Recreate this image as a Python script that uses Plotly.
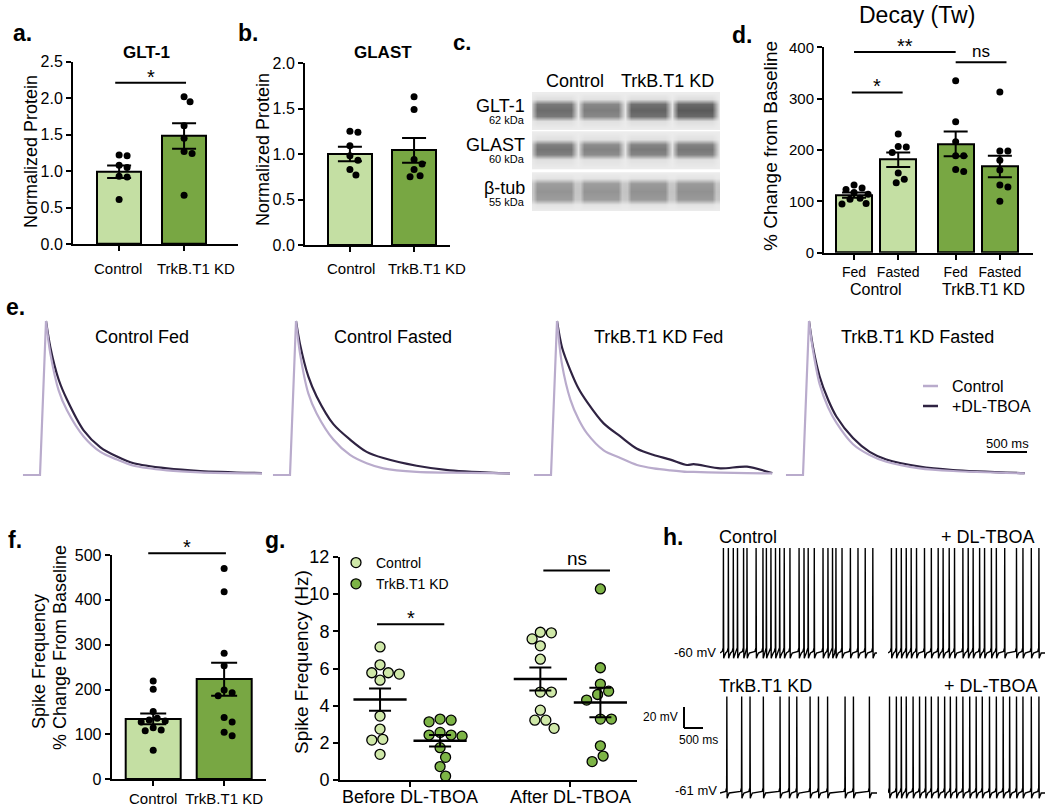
import plotly.graph_objects as go

W, H = 1050, 808
F = "Liberation Sans, Arial, sans-serif"
FN = "Liberation Sans Narrow, Arial Narrow, Liberation Sans, Arial, sans-serif"

LIGHT = "#c4dfa3"
DARK = "#78a743"
G_LIGHT = "#cfe8a8"
G_DARK = "#7db446"
TR_LIGHT = "#b9abcc"
TR_DARK = "#2f2342"

# ---------------- data ----------------
groups = ["Control", "TrkB.T1 KD"]

glt1_mean = [0.99, 1.48]
glt1_sem = [0.085, 0.175]
glt1_ctrl = [1.22, 1.21, 1.08, 1.05, 0.93, 0.92, 0.61]
glt1_kd = [2.02, 1.95, 1.62, 1.45, 1.27, 1.24, 0.67]

glast_mean = [1.0, 1.04]
glast_sem = [0.08, 0.137]
glast_ctrl = [1.25, 1.24, 1.09, 0.98, 0.93, 0.83, 0.77]
glast_kd = [1.63, 1.49, 0.94, 0.89, 0.83, 0.76, 0.75]

blot_lanes = ["Control", "TrkB.T1 KD"]
blot_rows = ["GLT-1", "GLAST", "β-tub"]
blot_kda = ["62 kDa", "60 kDa", "55 kDa"]
blot_glt1 = [0.88, 0.76, 0.94, 1.0]
blot_glast = [0.82, 0.72, 0.78, 0.80]
blot_btub = [0.60, 0.60, 0.62, 0.62]

decay_ticks = ["Fed", "Fasted", "Fed", "Fasted"]
decay_groups = ["Control", "TrkB.T1 KD"]
decay_mean = [112, 181, 212, 168]
decay_sem = [5, 14, 24, 21]
decay_ctrl_fed = [132, 126, 123, 117, 114, 106, 104, 96, 95]
decay_ctrl_fast = [231, 207, 206, 195, 155, 143, 136]
decay_kd_fed = [335, 255, 216, 189, 189, 162, 158]
decay_kd_fast = [313, 198, 198, 180, 161, 132, 128, 100]

e_titles = ["Control Fed", "Control Fasted", "TrkB.T1 KD Fed", "TrkB.T1 KD Fasted"]
e_rise_t = [-290, -75, 0]
e_rise_v = [0, 0, 1]
e_t1 = [0, 54, 158, 262, 470, 680, 887, 1096, 1512, 1929, 2700]
e_ctrl1 = [1, 0.79, 0.55, 0.42, 0.25, 0.15, 0.10, 0.06, 0.03, 0.017, 0.01]
e_tboa1 = [1, 0.83, 0.62, 0.49, 0.29, 0.18, 0.12, 0.076, 0.043, 0.026, 0.012]
e_t2 = [0, 50, 154, 258, 467, 675, 883, 1092, 1508, 1925, 2675]
e_ctrl2 = [1, 0.79, 0.53, 0.40, 0.23, 0.13, 0.076, 0.043, 0.02, 0.015, 0.01]
e_tboa2 = [1, 0.85, 0.64, 0.51, 0.33, 0.23, 0.15, 0.11, 0.06, 0.03, 0.01]
e_t3 = [0, 62, 167, 271, 375, 583, 792, 1000, 1208, 1417, 1625, 1708, 2042, 2375, 2690]
e_ctrl3 = [1, 0.72, 0.49, 0.36, 0.27, 0.16, 0.11, 0.065, 0.043, 0.03, 0.02, 0.02, 0.015, 0.012, 0.01]
e_tboa3 = [1, 0.83, 0.68, 0.56, 0.475, 0.335, 0.25, 0.17, 0.13, 0.10, 0.065, 0.07, 0.043, 0.054, 0.012]
e_t4 = [0, 50, 133, 238, 342, 550, 758, 967, 1383, 1800, 2696]
e_ctrl4 = [1, 0.81, 0.59, 0.44, 0.34, 0.20, 0.13, 0.086, 0.043, 0.026, 0.01]
e_tboa4 = [1, 0.83, 0.64, 0.49, 0.38, 0.24, 0.15, 0.10, 0.054, 0.032, 0.012]

f_mean = [134.5, 223]
f_sem = [12, 37]
f_ctrl = [219, 201, 151, 136, 132, 130, 128, 115, 110, 108, 65]
f_kd = [470, 418, 281, 253, 199, 193, 186, 138, 128, 105, 97]

g_labels = ["Before DL-TBOA", "After DL-TBOA"]
g_before_ctrl = [7.16, 6.2, 5.77, 5.77, 5.7, 5.37, 3.44, 2.74, 2.19, 2.15, 1.38]
g_before_kd = [3.28, 3.22, 3.13, 2.56, 2.42, 2.42, 2.36, 1.74, 1.22, 0.72, 0.21]
g_after_ctrl = [7.95, 7.92, 7.59, 7.22, 6.5, 4.73, 4.73, 3.76, 3.22, 3.22, 2.78]
g_after_kd = [10.28, 6.04, 5.16, 4.78, 4.6, 4.3, 3.28, 3.28, 1.84, 1.29, 0.99]
g_mean = [4.33, 2.11, 5.43, 4.17]
g_sem = [0.6, 0.31, 0.62, 0.79]

# spike times (s) for the 4 current-clamp traces
h_ctrl = [0.09, 0.22, 0.35, 0.46, 0.62, 0.71, 0.95, 1.13, 1.22, 1.34, 1.46, 1.57, 1.69, 1.84,
          2.08, 2.21, 2.32, 2.48, 2.71, 2.84, 2.96, 3.05, 3.21, 3.43, 3.63, 3.82, 4.02]
h_ctrl_tboa = [0.09, 0.22, 0.35, 0.48, 0.61, 0.75, 0.96, 1.14, 1.32, 1.45, 1.61, 1.75, 1.97,
               2.11, 2.24, 2.41, 2.54, 2.72, 2.85, 3.07, 3.38, 3.55, 3.77, 3.97]
h_kd = [0.18, 0.57, 0.79, 1.14, 1.58, 1.82, 2.02, 2.37, 2.59, 2.83, 3.29, 3.51, 3.93]
h_kd_tboa = [0.04, 0.22, 0.35, 0.48, 0.66, 0.83, 0.99, 1.14, 1.32, 1.49, 1.64, 1.80, 1.97,
             2.15, 2.32, 2.48, 2.67, 2.85, 3.03, 3.20, 3.38, 3.55, 3.77, 3.97]
h_rest = [-60, -61]
h_peak = [40, 31]

# ---------------- helpers ----------------
fig = go.Figure()
lay = {}
ann = []
shapes = []
axinfo = {}


def axis_pair(n, xd, yd, xkw, ykw):
    sx = "" if n == 1 else str(n)
    lay["xaxis" + sx] = dict(domain=[xd[0] / W, xd[1] / W], anchor="y" + sx, automargin=False, **xkw)
    lay["yaxis" + sx] = dict(domain=[1 - yd[1] / H, 1 - yd[0] / H], anchor="x" + sx, automargin=False, **ykw)
    axinfo[n] = (xd, xkw.get("range"), yd, ykw.get("range"))
    return "x" + sx, "y" + sx


def to_px(n, x, y):
    xd, xr, yd, yr = axinfo[n]
    px = xd[0] + (x - xr[0]) / (xr[1] - xr[0]) * (xd[1] - xd[0])
    py = yd[1] - (y - yr[0]) / (yr[1] - yr[0]) * (yd[1] - yd[0])
    return px, py


def ax_style(size=16, **kw):
    d = dict(showline=True, linecolor="black", linewidth=2, ticks="outside", ticklen=5,
             tickwidth=2, tickcolor="black", showgrid=False, zeroline=False, fixedrange=True,
             tickangle=0, tickfont=dict(family=F, size=size, color="black"))
    d.update(kw)
    return d


def hidden(**kw):
    d = dict(visible=False, showgrid=False, zeroline=False, fixedrange=True)
    d.update(kw)
    return d


def txt(s, x, y, size, font=F, bold=False, xanchor="center", yanchor="middle", angle=0, yshift=0):
    ann.append(dict(text="<b>%s</b>" % s if bold else s, x=x / W, y=1 - y / H,
                    xref="paper", yref="paper", showarrow=False, xanchor=xanchor,
                    yanchor=yanchor, textangle=angle, yshift=yshift,
                    font=dict(family=font, size=size, color="black")))


def pline(x0, y0, x1, y1, color="black", width=2):
    shapes.append(dict(type="line", xref="paper", yref="paper", x0=x0 / W, x1=x1 / W,
                       y0=1 - y0 / H, y1=1 - y1 / H, line=dict(color=color, width=width)))


def sig(n, x0, x1, y, label, size, shift):
    p0x, py = to_px(n, x0, y)
    p1x, _ = to_px(n, x1, y)
    pline(p0x, py, p1x, py)
    txt(label, (p0x + p1x) / 2, py, size, yanchor="bottom", yshift=shift)


def swarm(vals, ppy, d):
    placed, offs = [], []
    step = d / 4.0
    for v in vals:
        yp = v * ppy
        c = 0
        for k in range(0, 40):
            c = ((k + 1) // 2) * step * (1 if k % 2 else -1)
            if all((c - px) ** 2 + (yp - py) ** 2 >= 0.92 * d * d for px, py in placed):
                break
        placed.append((c, yp))
        offs.append(c)
    return offs


def bars(xs, means, sems, colors, width, cap, xa, ya):
    fig.add_trace(go.Bar(x=xs, y=means, width=width,
                         marker=dict(color=colors, line=dict(color="black", width=2)),
                         error_y=dict(type="data", array=sems, color="black", thickness=2, width=cap),
                         xaxis=xa, yaxis=ya, showlegend=False, hoverinfo="skip"))


def dots(x0, vals, ppx, ppy, xa, ya, size=7):
    offs = swarm(vals, ppy, size + 1)
    fig.add_trace(go.Scatter(x=[x0 + o / ppx for o in offs], y=vals, mode="markers",
                             marker=dict(size=size, color="black"), xaxis=xa, yaxis=ya,
                             showlegend=False, hoverinfo="skip"))


# ---------------- a. GLT-1 ----------------
xa, ya = axis_pair(1, (73, 238), (61.7, 244),
                   ax_style(15, range=[-0.71, 1.83], tickvals=[0, 1], ticktext=["", ""]),
                   ax_style(16, range=[0, 2.5], dtick=0.5, tickformat=".1f"))
bars([0, 1], glt1_mean, glt1_sem, [LIGHT, DARK], 0.68, 12, xa, ya)
dots(0, glt1_ctrl, 65, 72.9, xa, ya)
dots(1, glt1_kd, 65, 72.9, xa, ya)
sig(1, -0.06, 1.03, 2.21, "*", 20, -7)
txt("a.", 22, 33, 23, bold=True)
txt("GLT-1", 146, 52, 17, bold=True)
txt("Normalized Protein", 31, 152, 18, angle=-90)
txt(groups[0], 118, 268, 15)
txt(groups[1], 196, 268, 15)

# ---------------- b. GLAST ----------------
xa, ya = axis_pair(2, (305, 450), (63, 245),
                   ax_style(15, range=[-0.70, 1.56], tickvals=[0, 1], ticktext=["", ""]),
                   ax_style(16, range=[0, 2.0], dtick=0.5, tickformat=".1f"))
bars([0, 1], glast_mean, glast_sem, [LIGHT, DARK], 0.69, 12, xa, ya)
dots(0, glast_ctrl, 64, 91, xa, ya)
dots(1, glast_kd, 64, 91, xa, ya)
txt("b.", 248, 33, 23, bold=True)
txt("GLAST", 383, 52, 17, bold=True)
txt("Normalized Protein", 263, 150, 18, angle=-90)
txt(groups[0], 351, 268, 15)
txt(groups[1], 427, 268, 15)

# ---------------- c. western blot ----------------
xa, ya = axis_pair(3, (532, 720), (92, 211), hidden(range=[-0.47, 3.53]), hidden(range=[211, 92]))
strips = [(92, 129.3, 110, 6, 0.06), (131.7, 169.3, 149, 5, 0.08), (172.7, 210.7, 191.5, 8, 0.45)]
for inten, (top, bot, cen, hh, gap) in zip([blot_glt1, blot_glast, blot_btub], strips):
    xs, wx, lane = [], [], []
    for i in range(4):
        for o, w in zip([-0.5, -0.44, -0.36, 0, 0.36, 0.44], [gap, 0.45, 1, 1, 1, 0.45]):
            xs.append(i + o)
            wx.append(w)
            lane.append(i)
    xs += [3.5, 3.55]
    wx += [gap, gap]
    lane += [3, 3]
    ys = [top, top + 0.8, cen - hh - 5, cen - hh, cen, cen + hh, cen + hh + 5, bot - 0.8, bot]
    wy = [0, 0, 0.1, 0.9, 1, 0.9, 0.1, 0, 0]
    z = [[inten[l] * a * b for a, l in zip(wx, lane)] for b in wy]
    fig.add_trace(go.Heatmap(x=xs, y=ys, z=z, zmin=0, zmax=1, zsmooth="best", showscale=False,
                             colorscale=[[0, "#ececec"], [1, "#5a5a5a"]],
                             xaxis=xa, yaxis=ya, hoverinfo="skip"))
txt("c.", 462, 42, 22, bold=True)
txt(blot_lanes[0], 575, 81, 18)
txt(blot_lanes[1], 667, 81, 18)
for name, kda, (top, bot, cen, hh, gap) in zip(blot_rows, blot_kda, strips):
    txt(name, 527, cen - 4, 18, xanchor="right")
    txt(kda, 527, cen + 10, 11, font=FN, xanchor="right")

# ---------------- d. decay ----------------
dx = [0, 1, 2.3, 3.3]
xa, ya = axis_pair(4, (824, 1033), (47.3, 252.7),
                   ax_style(14, range=[-0.68, 4.05], tickvals=dx, ticktext=decay_ticks),
                   ax_style(15, range=[0, 400], dtick=100))
bars(dx, decay_mean, decay_sem, [LIGHT, LIGHT, DARK, DARK], 0.82, 12, xa, ya)
for x0, pts in zip(dx, [decay_ctrl_fed, decay_ctrl_fast, decay_kd_fed, decay_kd_fast]):
    dots(x0, pts, 44, 0.513, xa, ya)
sig(4, -0.05, 1.1, 312, "*", 20, -7)
sig(4, 0, 2.3, 390.7, "**", 20, -7)
sig(4, 2.3, 3.45, 370.7, "ns", 17, -1)
txt("d.", 742, 35, 23, bold=True)
txt("Decay (Tw)", 917, 15, 23)
txt("% Change from Baseline", 771, 146, 19, angle=-90)
txt(decay_groups[0], 876, 289, 16)
txt(decay_groups[1], 983, 289, 16)

# ---------------- e. traces ----------------
e_sets = [(e_t1, e_ctrl1, e_tboa1), (e_t2, e_ctrl2, e_tboa2),
          (e_t3, e_ctrl3, e_tboa3), (e_t4, e_ctrl4, e_tboa4)]
e_doms = [(22.8, 262), (272.8, 512), (533.8, 773), (785.8, 1025)]
e_cx = [142, 393, 658, 917]
for k, ((tt, cv, dv), dom) in enumerate(zip(e_sets, e_doms)):
    xa, ya = axis_pair(5 + k, dom, (316.4, 479.6), hidden(range=[-290, 2700]),
                       hidden(range=[-0.03, 1.03]))
    fig.add_trace(go.Scatter(x=tt, y=dv, mode="lines", line=dict(color=TR_DARK, width=2.2, shape="spline", smoothing=0.8),
                             xaxis=xa, yaxis=ya, showlegend=False, hoverinfo="skip"))
    fig.add_trace(go.Scatter(x=tt, y=cv, mode="lines", line=dict(color=TR_LIGHT, width=2.2, shape="spline", smoothing=0.8),
                             xaxis=xa, yaxis=ya, showlegend=False, hoverinfo="skip"))
    fig.add_trace(go.Scatter(x=e_rise_t, y=e_rise_v, mode="lines", line=dict(color=TR_LIGHT, width=2.2),
                             xaxis=xa, yaxis=ya, showlegend=False, hoverinfo="skip"))
    txt(e_titles[k], e_cx[k], 337, 18)
txt("e.", 15, 307, 23, bold=True)
pline(923, 386, 938, 386, TR_LIGHT, 2.5)
pline(923, 406, 938, 406, TR_DARK, 2.5)
txt("Control", 950, 386, 16, xanchor="left")
txt("+DL-TBOA", 950, 406, 16, xanchor="left")
pline(987, 452, 1027, 452, "black", 2)
txt("500 ms", 1007, 443, 13, font=FN)

# ---------------- f. spike frequency change ----------------
xa, ya = axis_pair(9, (111.7, 266), (555, 779.3),
                   ax_style(15, range=[-0.585, 1.59], tickvals=[0, 1], ticktext=groups),
                   ax_style(16, range=[0, 500], dtick=100))
bars([0, 1], f_mean, f_sem, [LIGHT, DARK], 0.78, 13, xa, ya)
dots(0, f_ctrl, 71, 0.4486, xa, ya)
dots(1, f_kd, 71, 0.4486, xa, ya)
sig(9, -0.07, 1.025, 504, "*", 20, -7)
txt("f.", 15, 540, 23, bold=True)
txt("Spike Frequency", 39, 662, 18, angle=-90)
txt("% Change From Baseline", 60, 648, 18, angle=-90)

# ---------------- g. spike frequency ----------------
gx = [0, 1, 2.67, 3.67]
gt = [0.5, 3.17]
xa, ya = axis_pair(10, (340, 637), (557, 780),
                   ax_style(18, range=[-0.667, 4.28], tickvals=gt, ticktext=["", ""]),
                   ax_style(18, range=[0, 12], dtick=2))
g_sets = [g_before_ctrl, g_before_kd, g_after_ctrl, g_after_kd]
g_cols = [G_LIGHT, G_DARK, G_LIGHT, G_DARK]
for i, (x0, pts, col) in enumerate(zip(gx, g_sets, g_cols)):
    offs = swarm(pts, 18.6, 11)
    fig.add_trace(go.Scatter(x=[x0 + o / 60 for o in offs], y=pts, mode="markers",
                             marker=dict(size=10, color=col, line=dict(color="black", width=1.3)),
                             name=groups[i % 2], showlegend=i < 2, legendgroup=groups[i % 2],
                             xaxis=xa, yaxis=ya, hoverinfo="skip"))
fig.add_trace(go.Scatter(x=gx, y=g_mean, mode="markers",
                         marker=dict(symbol="line-ew", size=38, line=dict(color="black", width=2.5)),
                         error_y=dict(type="data", array=g_sem, color="black", thickness=2, width=11),
                         xaxis=xa, yaxis=ya, showlegend=False, hoverinfo="skip"))
for lab, t in zip(g_labels, gt):
    px, _ = to_px(10, t, 0)
    txt(lab, px, 797, 18)
sig(10, -0.05, 1.07, 8.38, "*", 20, -7)
sig(10, 2.72, 3.83, 11.28, "ns", 19, -1)
txt("g.", 275, 540, 23, bold=True)
txt("Spike Frequency (Hz)", 301, 662, 19, angle=-90)

# ---------------- h. current clamp traces ----------------


def spike_wave(times, rest, peak, t_end):
    xs, ys = [0], [rest]
    for t in times:
        for o, dv in zip([-0.03, -0.005, 0, 0.007, 0.025, 0.06], [1.5, 5, None, -5, -3, 0]):
            xs.append(t + o)
            ys.append(peak if dv is None else rest + dv)
    xs.append(t_end)
    ys.append(rest)
    return xs, ys


h_sets = [(h_ctrl, 0), (h_ctrl_tboa, 0), (h_kd, 1), (h_kd_tboa, 1)]
h_xd = [(720, 877), (888, 1045), (720, 877), (888, 1045)]
h_yd = [(543.8, 665.6), (543.8, 665.6), (693.3, 805.6), (693.3, 805.6)]
h_yr = [[-72, 44], [-72, 44], [-73, 34], [-73, 34]]
for k, ((times, row), xd, yd, yr) in enumerate(zip(h_sets, h_xd, h_yd, h_yr)):
    xa, ya = axis_pair(11 + k, xd, yd, hidden(range=[0, 4.13]), hidden(range=yr))
    sx, sy = spike_wave(times, h_rest[row], h_peak[row], 4.13)
    fig.add_trace(go.Scatter(x=sx, y=sy, mode="lines", line=dict(color="black", width=1.4),
                             xaxis=xa, yaxis=ya, showlegend=False, hoverinfo="skip"))
txt("h.", 673, 537, 23, bold=True)
txt("Control", 717, 537, 18, xanchor="left")
txt("+ DL-TBOA", 1037, 537, 18, xanchor="right")
txt("TrkB.T1 KD", 717, 686, 18, xanchor="left")
txt("+ DL-TBOA", 1040, 686, 18, xanchor="right")
txt("%d mV" % h_rest[0], 718, 652, 13, font=FN, xanchor="right")
txt("%d mV" % h_rest[1], 719, 790, 13, font=FN, xanchor="right")
pline(684, 707, 684, 728)
pline(684, 728, 703, 728)
txt("20 mV", 680, 717, 12, font=FN, xanchor="right")
txt("500 ms", 698, 740, 12, font=FN)

fig.update_layout(
    width=W, height=H, autosize=False,
    margin=dict(l=0, r=0, t=0, b=0, pad=0, autoexpand=False),
    paper_bgcolor="white", plot_bgcolor="white", bargap=0,
    font=dict(family=F, color="black"),
    annotations=ann, shapes=shapes,
    legend=dict(x=336 / W, y=1 - 547 / H, xanchor="left", yanchor="top", bgcolor="rgba(0,0,0,0)",
                font=dict(family=F, size=14, color="black"), itemwidth=30, tracegroupgap=0),
    **lay,
)
fig.write_html(
    "out.html",
    config={"responsive": False, "displayModeBar": False},
    post_script="document.body.style.margin='0';document.body.style.overflow='hidden';",
)
